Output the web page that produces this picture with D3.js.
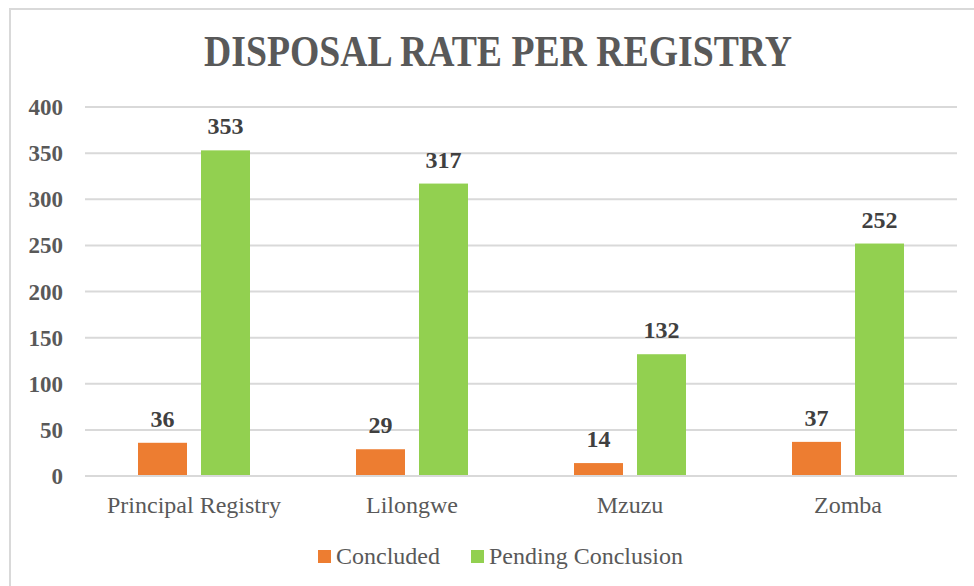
<!DOCTYPE html>
<html><head><meta charset="utf-8">
<script src="https://cdn.jsdelivr.net/npm/d3@7"></script>
<style>body{margin:0;background:#fff}svg{display:block}
svg text{font-family:"Liberation Serif","Times New Roman",Tinos,"DejaVu Serif",serif;}</style>
</head><body>
<script>
const categories = ["Principal Registry","Lilongwe","Mzuzu","Zomba"];
const seriesNames = ["Concluded","Pending Conclusion"];
const concluded = [36,29,14,37];
const pending = [353,317,132,252];
const yTicks = [0,50,100,150,200,250,300,350,400];
const colors = ["#ED7D31","#92D050"];

const W=974,H=586;
const svg=d3.select("body").append("svg").attr("width",W).attr("height",H);
svg.append("rect").attr("x",10).attr("y",9).attr("width",980).attr("height",600)
  .attr("fill","#fff").attr("stroke","#d9d9d9").attr("stroke-width",2);

svg.append("text").attr("x",498).attr("y",66).attr("text-anchor","middle")
  .attr("font-weight","bold").attr("font-size",44)
  .attr("fill","#595959").attr("textLength",588).attr("lengthAdjust","spacingAndGlyphs")
  .text("DISPOSAL RATE PER REGISTRY");

const x0=d3.scaleBand().domain(categories).range([85,957]);
const y=d3.scaleLinear().domain([0,400]).range([476,107]);
const x1=d3.scaleBand().domain(seriesNames).range([0,112]);

const g=svg.append("g");
g.selectAll("line.grid").data(yTicks).join("line")
  .attr("x1",85).attr("x2",957).attr("y1",d=>y(d)).attr("y2",d=>y(d))
  .attr("stroke","#d9d9d9").attr("stroke-width",2);
g.selectAll("text.yt").data(yTicks).join("text")
  .attr("x",63).attr("y",d=>y(d)+8).attr("text-anchor","end")
  .attr("font-weight","bold").attr("font-size",23)
  .attr("fill","#595959").text(d=>d);

const data=categories.map((c,i)=>({c,vals:[concluded[i],pending[i]]}));
const grp=g.selectAll("g.cat").data(data).join("g")
  .attr("transform",d=>`translate(${x0(d.c)+x0.bandwidth()/2-56},0)`);
grp.selectAll("rect").data(d=>d.vals.map((v,j)=>({v,s:seriesNames[j],j}))).join("rect")
  .attr("x",d=>x1(d.s)+(d.j===0?0:7)).attr("width",49)
  .attr("y",d=>y(d.v)).attr("height",d=>y(0)-y(d.v)).attr("fill",d=>colors[d.j]);
grp.selectAll("text").data(d=>d.vals.map((v,j)=>({v,s:seriesNames[j],j}))).join("text")
  .attr("x",d=>x1(d.s)+(d.j===0?0:7)+24.5).attr("y",d=>y(d.v)-16)
  .attr("text-anchor","middle").attr("font-weight","bold")
  .attr("font-size",24).attr("fill","#404040").text(d=>d.v);

g.append("line").attr("x1",85).attr("x2",957).attr("y1",y(0)).attr("y2",y(0))
  .attr("stroke","#d9d9d9").attr("stroke-width",2);

g.selectAll("text.cat").data(categories).join("text")
  .attr("x",d=>x0(d)+x0.bandwidth()/2).attr("y",513).attr("text-anchor","middle")
  .attr("font-size",24).attr("fill","#595959").text(d=>d);

const legX=[318,471];
const lg=svg.selectAll("g.leg").data(seriesNames).join("g")
  .attr("transform",(d,i)=>`translate(${legX[i]},550)`);
lg.append("rect").attr("width",13).attr("height",13).attr("fill",(d,i)=>colors[i]);
lg.append("text").attr("x",18).attr("y",14).attr("font-size",24)
  .attr("fill","#595959").text(d=>d);
</script>
</body></html>
